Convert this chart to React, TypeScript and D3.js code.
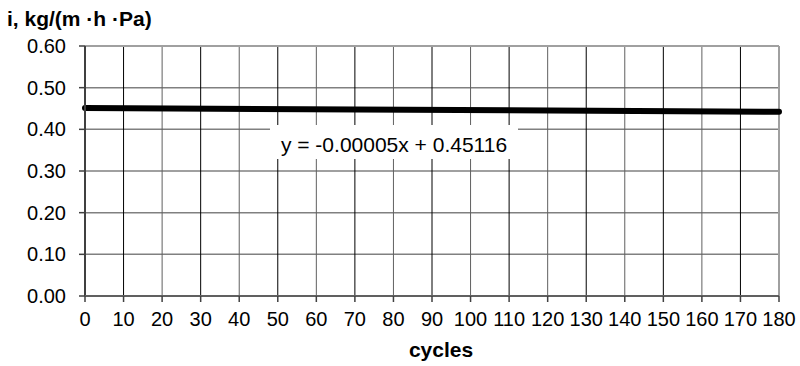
import React from 'react';
import * as d3 from 'd3';

const xTicks = [0, 10, 20, 30, 40, 50, 60, 70, 80, 90, 100, 110, 120, 130, 140, 150, 160, 170, 180];
const yTicks = [0, 0.1, 0.2, 0.3, 0.4, 0.5, 0.6];
const trendX = [0, 180];
const trendY = [0.45116, 0.44216];
const equation = 'y = -0.00005x + 0.45116';
const yTitle = 'i, kg/(m ·h ·Pa)';
const xTitle = 'cycles';

const W = 800;
const H = 366;
const margin = { left: 85, right: 21, top: 46, bottom: 70 };
const font = 'Liberation Sans, Arial, sans-serif';

export default function App() {
  const x = d3.scaleLinear().domain([0, 180]).range([margin.left, W - margin.right]);
  const y = d3.scaleLinear().domain([0, 0.6]).range([H - margin.bottom, margin.top]);
  const line = d3.line<number>().x((d) => x(trendX[d])).y((d) => y(trendY[d]));

  // white box behind the trendline equation
  const boxX = 270;
  const boxW = 248;
  const boxY = 125;
  const boxH = 34;

  return (
    <div style={{ position: 'absolute', left: 0, top: 0 }}>
      <svg width={W} height={H} style={{ display: 'block', background: '#fff' }}>
        {/* gridlines */}
        {yTicks.slice(1).map((t) => (
          <line key={'gy' + t} x1={x(0)} x2={x(180)} y1={y(t)} y2={y(t)} stroke="#808080" strokeWidth={1.5} />
        ))}
        {xTicks.slice(1).map((t, i) => (
          <line key={'gx' + t} x1={x(t)} x2={x(t)} y1={y(0)} y2={y(0.6)} stroke={i % 2 === 0 ? '#000' : '#606060'} strokeWidth={1} />
        ))}
        {/* border top/right */}
        <line x1={x(0)} x2={x(180)} y1={y(0.6)} y2={y(0.6)} stroke="#a0a0a0" strokeWidth={2} />
        <line x1={x(180)} x2={x(180)} y1={y(0.6)} y2={y(0)} stroke="#a0a0a0" strokeWidth={2} />
        {/* trend line */}
        <path d={line([0, 1]) || ''} fill="none" stroke="#000" strokeWidth={6} strokeLinecap="round" />
        {/* equation label */}
        <rect x={boxX} y={boxY} width={boxW} height={boxH} fill="#fff" />
        <text x={boxX + boxW / 2} y={152} textAnchor="middle" fontFamily={font} fontSize={21} fill="#000">
          {equation}
        </text>
        {/* axes */}
        <line x1={x(0)} x2={x(0)} y1={y(0.6)} y2={y(0)} stroke="#404040" strokeWidth={2} />
        <line x1={x(0)} x2={x(180)} y1={y(0)} y2={y(0)} stroke="#606060" strokeWidth={2} />
        {yTicks.map((t) => (
          <g key={'ty' + t}>
            <line x1={x(0) - 6} x2={x(0)} y1={y(t)} y2={y(t)} stroke="#404040" strokeWidth={1.5} />
            <text x={x(0) - 19} y={y(t) + 7} textAnchor="end" fontFamily={font} fontSize={20} fill="#000">
              {t.toFixed(2)}
            </text>
          </g>
        ))}
        {xTicks.map((t) => (
          <g key={'tx' + t}>
            <line x1={x(t)} x2={x(t)} y1={y(0)} y2={y(0) + 6} stroke="#404040" strokeWidth={1.5} />
            <text x={x(t)} y={326} textAnchor="middle" fontFamily={font} fontSize={20} fill="#000">
              {t}
            </text>
          </g>
        ))}
        <text x={7} y={26} fontFamily={font} fontSize={21} fontWeight="bold" fill="#000">
          {yTitle}
        </text>
        <text x={441} y={357} textAnchor="middle" fontFamily={font} fontSize={21} fontWeight="bold" fill="#000">
          {xTitle}
        </text>
      </svg>
    </div>
  );
}
